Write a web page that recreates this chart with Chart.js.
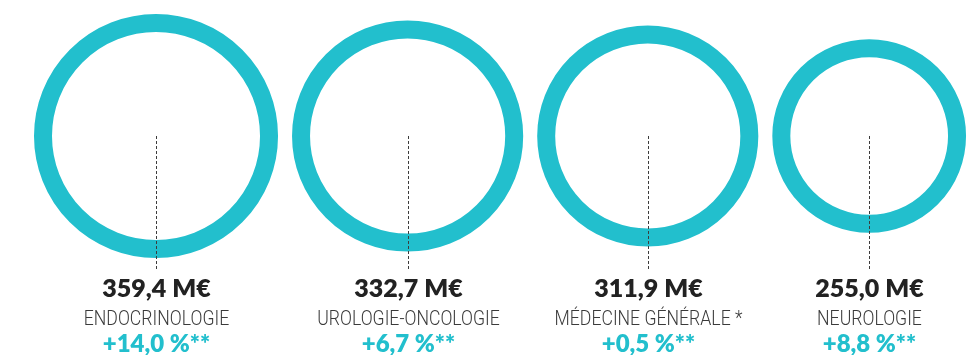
<!DOCTYPE html>
<html>
<head>
<meta charset="utf-8">
<script src="https://cdn.jsdelivr.net/npm/chart.js@4"></script>
<style>
  html, body { margin: 0; padding: 0; background: #fff; }
  #wrap { width: 978px; height: 355px; }
</style>
</head>
<body>
<div id="wrap"><canvas id="chart"></canvas></div>
<script>
// --- données ---
const categories = ['ENDOCRINOLOGIE', 'UROLOGIE-ONCOLOGIE', 'MÉDECINE GÉNÉRALE *', 'NEUROLOGIE'];
const amounts = [359.4, 332.7, 311.9, 255.0];   // M€
const growth = [14.0, 6.7, 0.5, 8.8];           // %

// --- style ---
const teal = '#22bfcd';
const ringWidth = 18;
const gap = 14;
const leftMargin = 34;

// rayon extérieur (px) en fonction du montant
const outerRadius = v => 35.4 + 0.241 * v;

const fr = n => n.toFixed(1).replace('.', ',');

// anneaux posés côte à côte, avec un petit écart
const radii = amounts.map(outerRadius);
const centers = [];
let cursor = leftMargin;
radii.forEach(r => {
    centers.push(cursor + r);
    cursor += 2 * r + gap;
});

const points = amounts.map((v, i) => ({ x: centers[i], y: 0, r: radii[i] - ringWidth / 2 }));

const labelsPlugin = {
    id: 'ringLabels',
    afterDatasetsDraw(chart) {
        const { ctx } = chart;
        const meta = chart.getDatasetMeta(0);
        meta.data.forEach((pt, i) => {
            const x = Math.round(pt.x) + 0.5;

            // ligne pointillée du centre vers le texte
            ctx.save();
            ctx.strokeStyle = '#3c3c3c';
            ctx.lineWidth = 1;
            ctx.setLineDash([3, 2]);
            ctx.beginPath();
            ctx.moveTo(x, pt.y);
            ctx.lineTo(x, 270);
            ctx.stroke();
            ctx.restore();

            ctx.save();
            ctx.textAlign = 'center';
            ctx.textBaseline = 'alphabetic';

            ctx.fillStyle = '#222';
            ctx.font = '800 25px Lato';
            ctx.fillText(fr(amounts[i]) + ' M€', x, 297);

            ctx.save();
            ctx.translate(x, 325);
            ctx.scale(0.84, 1);
            ctx.fillStyle = '#3a3a3a';
            ctx.font = '300 21px Roboto';
            ctx.fillText(categories[i], 0, 0);
            ctx.restore();

            ctx.fillStyle = teal;
            ctx.font = '800 24px Lato';
            ctx.fillText('+' + fr(growth[i]) + ' %**', x, 352);
            ctx.restore();
        });
    }
};

new Chart(document.getElementById('chart').getContext('2d'), {
    type: 'bubble',
    data: {
        datasets: [{
            data: points,
            backgroundColor: 'rgba(0,0,0,0)',
            borderColor: teal,
            borderWidth: ringWidth,
            hoverBorderWidth: ringWidth,
            hoverRadius: 0,
            clip: false
        }]
    },
    options: {
        responsive: true,
        maintainAspectRatio: false,
        animation: false,
        events: [],
        layout: { autoPadding: false, padding: { left: 0, right: 0, top: 0, bottom: 83 } },
        plugins: { legend: { display: false }, tooltip: { enabled: false } },
        scales: {
            x: { type: 'linear', min: 0, max: 978, display: false },
            y: { type: 'linear', min: -1, max: 1, display: false }
        }
    },
    plugins: [labelsPlugin]
});
</script>
</body>
</html>
